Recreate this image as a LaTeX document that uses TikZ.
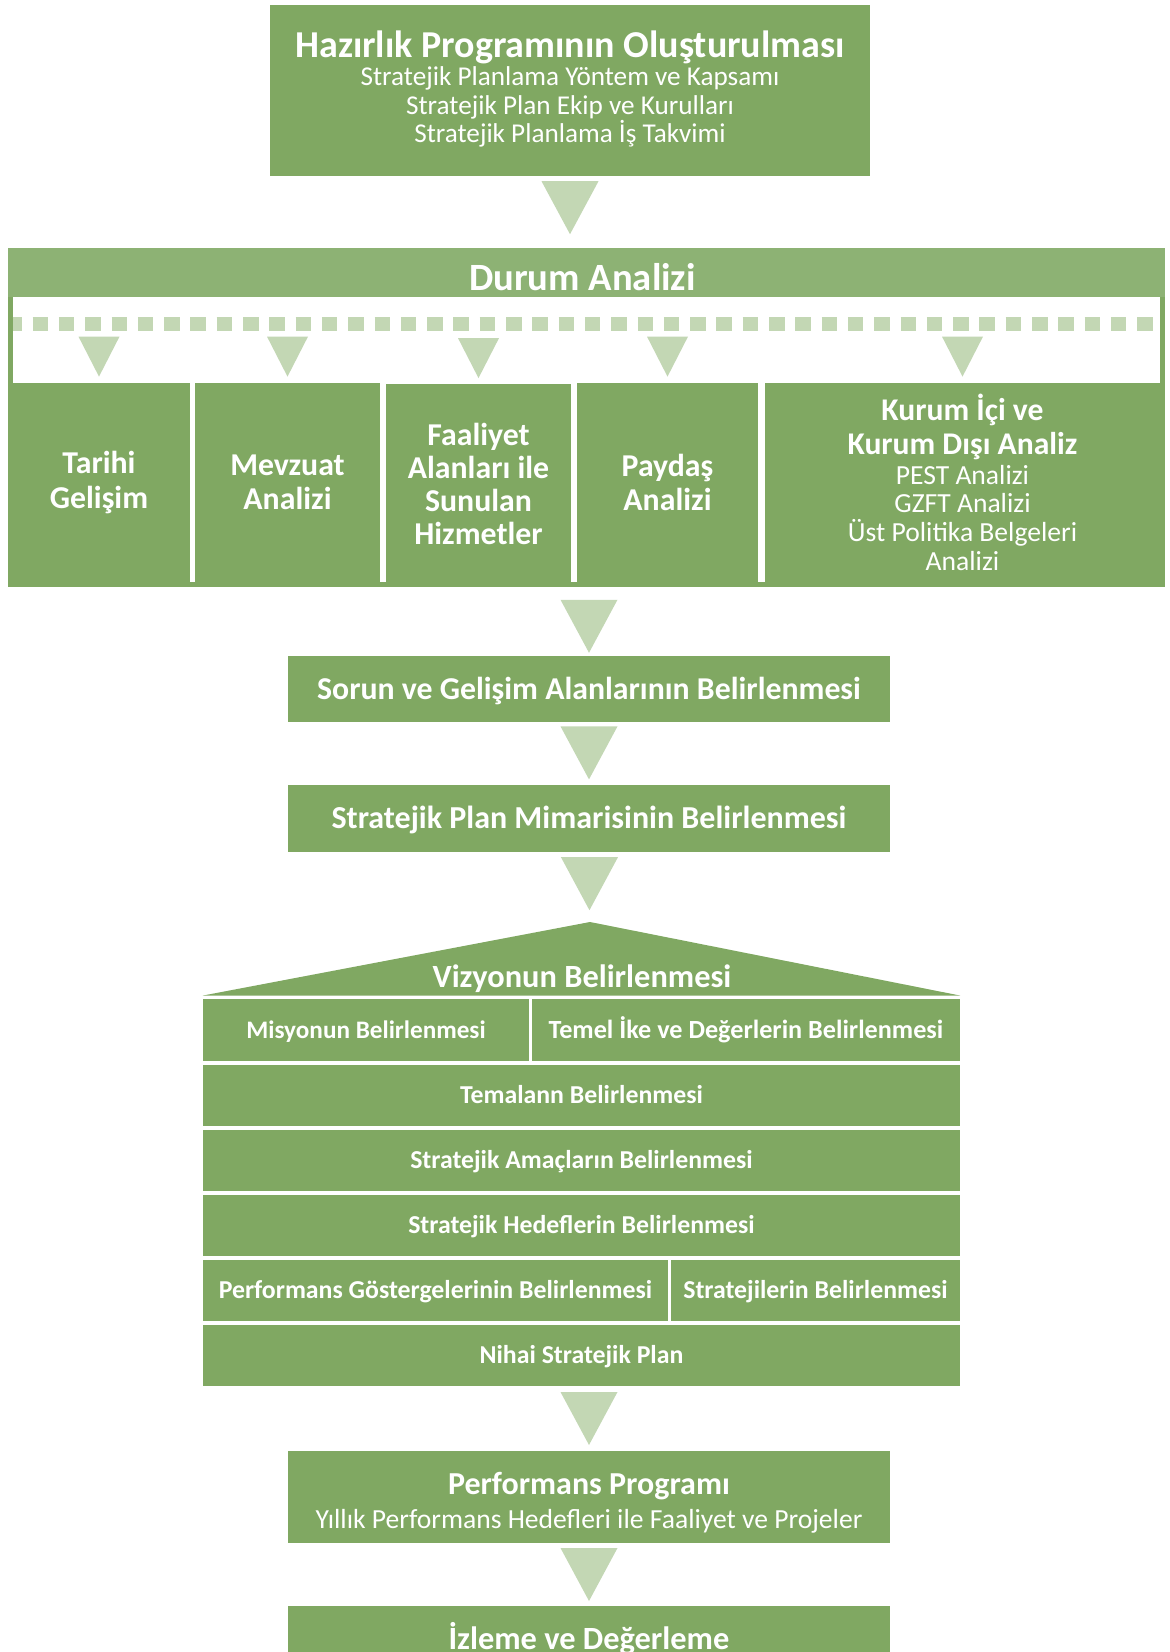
\documentclass[tikz,border=0pt]{standalone}
\usepackage{fontspec}
\setmainfont{Carlito}
\usepackage{tikz}
\usepackage{xcolor}
\usetikzlibrary{positioning,calc}
\definecolor{planGreen}{HTML}{80A862}
\definecolor{bandGreen}{HTML}{8DB274}
\definecolor{paleGreen}{HTML}{C3D7B4}
\newcommand{\bigtri}[1]{\fill [paleGreen] (#1) ++(-28.5,-26.5) -- ++(57,0) -- ++(-28.5,53) -- cycle;}
\newcommand{\fs}[2]{\fontsize{#1}{#2}\selectfont}

\begin{document}
\lineskiplimit=-100pt
\begin{tikzpicture}[x=0.5pt,y=-0.5pt]
\tikzstyle{every node}+=[inner sep=0pt, text=white, align=center]
\tikzstyle{box}=[fill=planGreen]
\tikzstyle{band}=[fill=bandGreen]
\tikzstyle{rowbox}=[box, minimum width=378.5pt, minimum height=30.5pt, font=\fs{12.9}{14}\bfseries, text height=8.3pt, text depth=0pt]
\tikzstyle{stepbox}=[box, minimum width=301pt, minimum height=33pt, font=\fs{16}{18}\bfseries, text height=10.3pt, text depth=0pt]
\tikzstyle{colbox}=[box, minimum height=99.5pt, font=\fs{15.9}{17.3}\bfseries]
\useasboundingbox (0,0) rectangle (1169,1652);
\clip (0,0) rectangle (1169,1652);
\node [box, minimum width=300pt, minimum height=85.5pt] (prep) at (570,90.5) {};
\node [font=\fs{13.6}{14.25}] (preptext) at ([yshift=0.8pt]prep.center) {{\fs{19}{14.25}\bfseries Hazırlık Programının Oluşturulması}\\[0pt]
Stratejik Planlama Yöntem ve Kapsamı\\
Stratejik Plan Ekip ve Kurulları\\
Stratejik Planlama İş Takvimi};
\node [box, minimum width=578.5pt, minimum height=169.5pt] (durum) at (586.5,417.5) {};
\node [band, minimum width=578.5pt, minimum height=24.5pt, anchor=north] (durumhead) at (durum.north) {};
\node [font=\fs{19.3}{20}\bfseries, text height=12.4pt, text depth=0pt] (durumtitle) at (582.5,278) {Durum Analizi};
\fill [white] ([xshift=2.5pt]durumhead.south west) rectangle (1160,582);
\node [colbox, minimum width=91pt] (col1) at (99,482.5) {Tarihi\\Gelişim};
\node [colbox, minimum width=92.5pt] (col2) at (287.5,482.5) {Mevzuat\\Analizi};
\node [colbox, minimum width=92.5pt, font=\fs{15.9}{16.5}\bfseries] (col3) at (478.5,484) {Faaliyet\\Alanları ile\\Sunulan\\Hizmetler};
\node [colbox, minimum width=90.5pt] (col4) at (667.5,482.5) {Paydaş\\Analizi};
\node [colbox, minimum width=197.5pt, font=\fs{13.8}{14.4}] (col5) at (962.5,482.5) {{\fs{15.8}{14.4}\bfseries Kurum İçi ve}\\[2.5pt]
{\fs{15.8}{14.4}\bfseries Kurum Dışı Analiz}\\[0.3pt]
PEST Analizi\\
GZFT Analizi\\
Üst Politika Belgeleri\\
Analizi};
\draw [paleGreen, line width=7pt, dash pattern=on 7.75pt off 5.4pt, dash phase=3.15pt] ([shift={(5,27)}]durumhead.south west) -- ([shift={(-5,27)}]durumhead.south east);
\foreach \c in {col1,col2,col3,col4,col5}
  \fill [paleGreen] (\c.north) ++(-20.5,-46) -- ++(41,0) -- ++(-20.5,40) -- cycle;
\node [stepbox, font=\fs{15.9}{18}\bfseries] (sorun) at (589,689) {Sorun ve Gelişim Alanlarının Belirlenmesi};
\node [stepbox, minimum height=33.5pt] (mimari) at (589,818.5) {Stratejik Plan Mimarisinin Belirlenmesi};
\coordinate (apex) at (590,922);
\node [rowbox, minimum width=163pt, minimum height=31pt, font=\fs{12.6}{14}\bfseries] (misyon) at (366,1030) {Misyonun Belirlenmesi};
\node [rowbox, minimum width=214pt, minimum height=31pt, font=\fs{13.1}{14}\bfseries] (temel) at (746,1030) {Temel İke ve Değerlerin Belirlenmesi};
\fill [planGreen] ([yshift=1.5pt]misyon.north west) -- (apex) -- ([yshift=1.5pt]temel.north east) -- cycle;
\node [font=\fs{16.2}{18}\bfseries, text height=10.4pt, text depth=0pt] (vizyon) at (582,977) {Vizyonun Belirlenmesi};
\node [rowbox] (tema) at (581.5,1095.5) {Temalann Belirlenmesi};
\node [rowbox] (amac) at (581.5,1160.5) {Stratejik Amaçların Belirlenmesi};
\node [rowbox] (hedef) at (581.5,1225.5) {Stratejik Hedeflerin Belirlenmesi};
\node [rowbox, minimum width=232.5pt] (gosterge) at (435.5,1290.5) {Performans Göstergelerinin Belirlenmesi};
\node [rowbox, minimum width=144.5pt] (strateji) at (815.5,1290.5) {Stratejilerin Belirlenmesi};
\node [rowbox] (nihai) at (581.5,1355.5) {Nihai Stratejik Plan};
\node [box, minimum width=301pt, minimum height=46pt] (perf) at (589,1497) {};
\node [font=\fs{13.8}{14}] (perftext) at ([yshift=-2.9pt]perf.center) {{\fs{16}{14}\bfseries Performans Programı}\\[3.2pt]
Yıllık Performans Hedefleri ile Faaliyet ve Projeler};
\node [stepbox, font=\fs{16.2}{18}\bfseries] (izleme) at (589,1639) {İzleme ve Değerleme};
\coordinate (t1) at ($(prep.south)!0.44!(prep.south |- durum.north)$);
\coordinate (t2) at ($(sorun.north |- durum.south)!0.57!(sorun.north)$);
\coordinate (t3) at ($(sorun.south)!0.49!(mimari.north)$);
\coordinate (t4) at ($(mimari.south)!0.45!(apex)$);
\coordinate (t5) at ($(perf.north |- nihai.south)!0.5!(perf.north)$);
\coordinate (t6) at ($(perf.south)!0.5!(izleme.north)$);
\foreach \t in {t1,t2,t3,t4,t5,t6}
  {\bigtri{\t}}
\end{tikzpicture}
\end{document}
